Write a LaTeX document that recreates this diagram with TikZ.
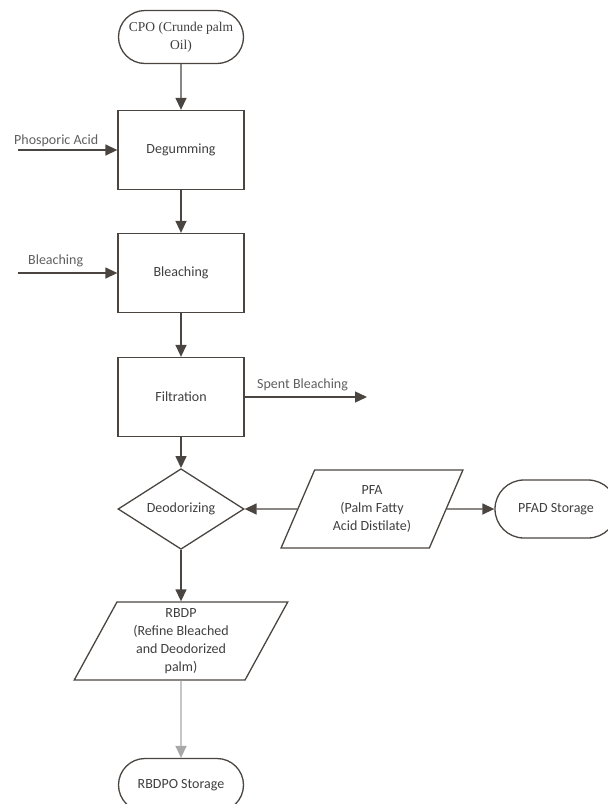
\documentclass[tikz,border=0pt]{standalone}
\usepackage{fontspec}
\setmainfont{Carlito}
\newfontfamily\cposerif{Liberation Serif}
\usetikzlibrary{shapes.geometric,shapes.misc,arrows.meta}
\definecolor{flowline}{HTML}{4B4541}
\definecolor{flowtext}{HTML}{3F3F3F}
\definecolor{sidetext}{HTML}{5F5F5F}
\definecolor{paleline}{HTML}{A8A8A8}

\begin{document}
\begin{tikzpicture}[x=1pt,y=-1pt,
  every node/.style={font=\fontsize{14}{18}\selectfont, text=flowtext, align=center},
  stepbox/.style={draw=flowline, line width=1.3pt, minimum width=126pt, minimum height=79pt, inner sep=0pt},
  termbox/.style={rounded rectangle, draw=flowline, line width=1.3pt, minimum width=125pt, minimum height=53pt, inner sep=0pt},
  deobox/.style={diamond, draw=flowline, line width=1.3pt, minimum width=126pt, minimum height=77pt, inner sep=0pt},
  databox/.style={trapezium, trapezium left angle=64, trapezium right angle=116, trapezium stretches=true,
    draw=flowline, line width=1.3pt, minimum height=78pt, inner sep=0pt},
  sidelabel/.style={text=sidetext, inner sep=0pt},
  flow/.style={draw=flowline, line width=1.4pt, -{Triangle[length=12pt,width=11pt]}},
  paleflow/.style={draw=paleline, line width=1.4pt, -{Triangle[length=12pt,width=11pt]}}]
\useasboundingbox (0,0) rectangle (608,804);

% main column
\node[termbox, font=\cposerif\fontsize{13.5}{18}\selectfont] (cpo) at (181,37) {CPO (Crunde palm\\Oil)};
\node[stepbox] (degum) at (181,150) {Degumming};
\node[stepbox] (bleach) at (181,273) {Bleaching};
\node[stepbox] (filter) at (181,397) {Filtration};
\node[deobox] (deodor) at (181,509) {Deodorizing};
\node[databox, minimum width=214pt] (rbdp) at (181,641) {RBDP\\(Refine Bleached\\and Deodorized\\palm)};
\node[termbox] (rbdpo) at (181,785) {RBDPO Storage};

% side streams
\node[databox, minimum width=182pt] (pfa) at (372,509) {PFA\\(Palm Fatty\\Acid Distilate)};
\node[termbox, minimum width=122pt, minimum height=58pt] (pfad) at (556,509) {PFAD Storage};

\coordinate (acidin) at (18,150);
\coordinate (bleachin) at (18,273);
\coordinate (spentout) at (367,397);
\node[sidelabel, anchor=base west] (acidlbl) at (14,144) {Phosporic Acid};
\node[sidelabel, anchor=base west] (bleachlbl) at (28,264) {Bleaching};
\node[sidelabel, anchor=base west] (spentlbl) at (257,388) {Spent Bleaching};

% connectors
\draw[flow] (cpo) -- (degum);
\draw[flow] (degum) -- (bleach);
\draw[flow] (bleach) -- (filter);
\draw[flow] (filter) -- (deodor);
\draw[flow] (deodor) -- (rbdp);
\draw[paleflow] (rbdp) -- (rbdpo);
\draw[flow] (acidin) -- (degum);
\draw[flow] (bleachin) -- (bleach);
\draw[flow] (filter) -- (spentout);
\draw[flow] (pfa) -- (deodor);
\draw[flow] (pfa) -- (pfad);
\end{tikzpicture}
\end{document}
